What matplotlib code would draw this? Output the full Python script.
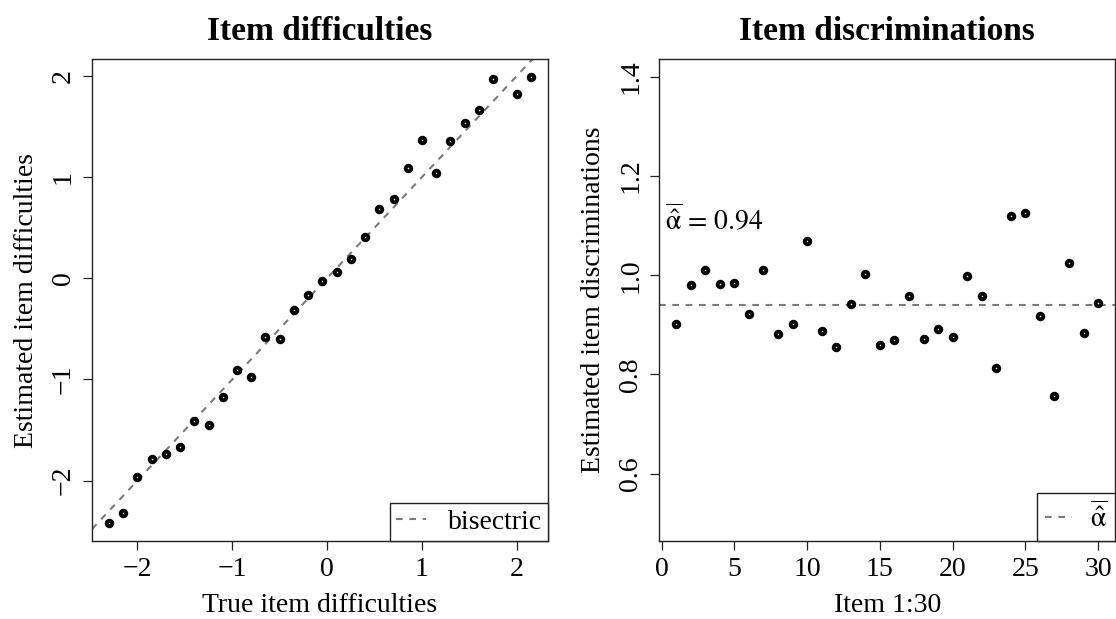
import numpy as np
import matplotlib
matplotlib.use("Agg")
import matplotlib.pyplot as plt

plt.rcParams['font.family'] = ['Liberation Serif', 'DejaVu Serif']
plt.rcParams['mathtext.fontset'] = 'stix'

# True vs. estimated item difficulties (30 items)
true_difficulty = [-2.30, -2.15, -2.00, -1.85, -1.70, -1.55, -1.40, -1.25, -1.10, -0.95,
                   -0.80, -0.65, -0.50, -0.35, -0.20, -0.05, 0.10, 0.25, 0.40, 0.55,
                   0.70, 0.85, 1.00, 1.15, 1.30, 1.45, 1.60, 1.75, 2.00, 2.15]
est_difficulty = [-2.42, -2.32, -1.96, -1.79, -1.74, -1.67, -1.41, -1.45, -1.17, -0.91,
                  -0.98, -0.58, -0.60, -0.31, -0.17, -0.03, 0.06, 0.19, 0.41, 0.68,
                  0.78, 1.09, 1.37, 1.04, 1.36, 1.53, 1.66, 1.97, 1.82, 1.99]

# Estimated item discriminations
items = list(range(1, 31))
est_discrimination = [0.901, 0.980, 1.011, 0.982, 0.985, 0.922, 1.010, 0.882, 0.902, 1.069,
                      0.888, 0.856, 0.941, 1.003, 0.859, 0.869, 0.959, 0.871, 0.892, 0.875,
                      0.999, 0.958, 0.813, 1.120, 1.126, 0.918, 0.756, 1.024, 0.883, 0.944]

diff_ticks = [-2, -1, 0, 1, 2]
item_ticks = [0, 5, 10, 15, 20, 25, 30]
disc_ticks = [0.6, 0.8, 1.0, 1.2, 1.4]
disc_ylim = (0.5, 1.4)

TICK_FS = 20
LAB_FS = 20
TITLE_FS = 24
DASH_COLOR = '#7a7a7a'
DASH = (0, (3.2, 3.2))
ALPHA_BAR = r'\overline{\hat{\mathrm{\alpha}}}'


def r_range(lo, hi, frac=0.04):
    pad = (hi - lo) * frac
    return lo - pad, hi + pad


def style_axes(ax):
    for s in ax.spines.values():
        s.set_linewidth(1.0)
        s.set_color('#222222')
    ax.tick_params(direction='out', length=6.5, width=0.9, labelsize=TICK_FS, pad=5,
                   color='#222222')
    for lab in ax.get_yticklabels():
        lab.set_rotation(90)
        lab.set_va('center')


def draw_points(ax, x, y):
    ax.plot(x, y, linestyle='none', marker='o', markersize=4.0,
            markerfacecolor='white', markeredgecolor='black', markeredgewidth=2.8,
            zorder=3)


def add_legend(ax, borderpad, handlelength, textpad):
    leg = ax.legend(loc='lower right', borderaxespad=0, fancybox=False, fontsize=LAB_FS,
                    handlelength=handlelength, handletextpad=textpad,
                    borderpad=borderpad, framealpha=1)
    frame = leg.get_frame()
    frame.set_edgecolor('#222222')
    frame.set_linewidth(1.0)
    return leg


fig = plt.figure(figsize=(11.16, 6.19), dpi=100)
ax1 = fig.add_axes([92 / 1116, 1 - 541 / 619, 456 / 1116, 482 / 619])
ax2 = fig.add_axes([659.3 / 1116, 1 - 541 / 619, 455.7 / 1116, 482 / 619])

# Left: difficulties against the bisectric
ax1.axline((0, 0), slope=1, color=DASH_COLOR, lw=1.5, linestyle=DASH, zorder=2,
           label='bisectric')
draw_points(ax1, true_difficulty, est_difficulty)
ax1.set_xlim(*r_range(min(true_difficulty), max(true_difficulty)))
ax1.set_ylim(*r_range(min(est_difficulty), max(est_difficulty)))
ax1.set_xticks(diff_ticks)
ax1.set_yticks(diff_ticks)
ax1.set_xticklabels(['\u22122', '\u22121', '0', '1', '2'])
ax1.set_yticklabels(['\u22122', '\u22121', '0', '1', '2'])
style_axes(ax1)
ax1.set_title('Item difficulties', fontsize=TITLE_FS, fontweight='bold', pad=14)
ax1.set_xlabel('True item difficulties', fontsize=LAB_FS, labelpad=8)
ax1.set_ylabel('Estimated item difficulties', fontsize=LAB_FS, labelpad=9)
add_legend(ax1, 0.22, 1.05, 0.8)

# Right: discriminations with their mean
mean_disc = float(np.mean(est_discrimination))
ax2.axhline(mean_disc, color=DASH_COLOR, lw=1.5, linestyle=DASH, zorder=2,
            label='$' + ALPHA_BAR + '$')
draw_points(ax2, items, est_discrimination)
ax2.set_xlim(*r_range(min(items), max(items)))
ax2.set_ylim(*r_range(*disc_ylim))
ax2.set_xticks(item_ticks)
ax2.set_yticks(disc_ticks)
ax2.set_yticklabels([f'{t:.1f}' for t in disc_ticks])
style_axes(ax2)
ax2.set_title('Item discriminations', fontsize=TITLE_FS, fontweight='bold', pad=14)
ax2.set_xlabel('Item 1:30', fontsize=LAB_FS, labelpad=8)
ax2.set_ylabel('Estimated item discriminations', fontsize=LAB_FS, labelpad=9)
ax2.text(0.2, 1.09, '$' + ALPHA_BAR + r'\,=\,' + f'{mean_disc:.2f}' + '$',
         fontsize=LAB_FS, ha='left', va='baseline')
add_legend(ax2, 0.3, 0.95, 0.65)

fig.savefig('out.png', dpi=100, facecolor='white')
